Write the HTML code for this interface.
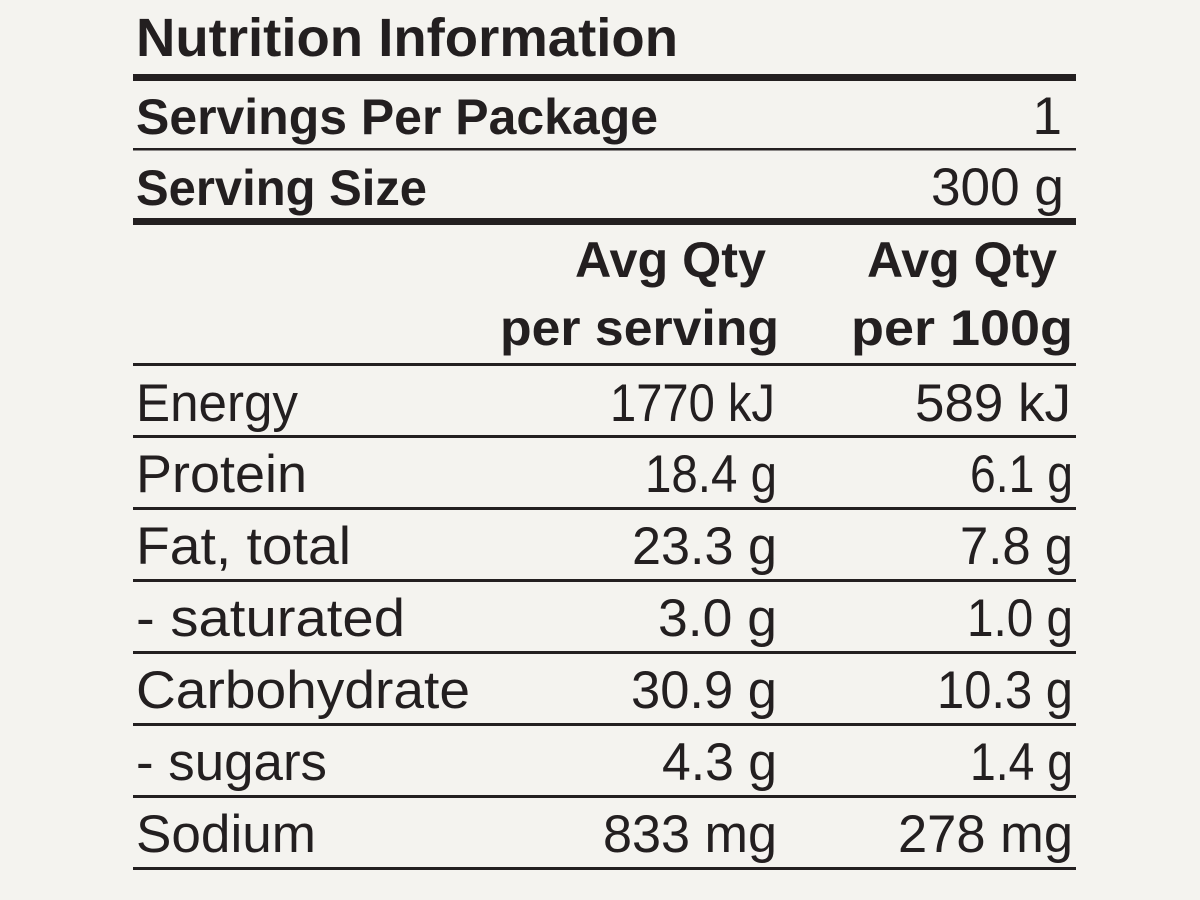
<!DOCTYPE html>
<html>
<head>
<meta charset="utf-8">
<style>
html,body{margin:0;padding:0;background:#f4f3ef;}
svg{display:block;}
text{font-family:"Liberation Sans",Arial,sans-serif;fill:#231f20;}
.b{font-weight:bold;}
.r{font-weight:normal;font-size:53px;}
</style>
</head>
<body>
<svg width="1200" height="900" viewBox="0 0 1200 900" xmlns="http://www.w3.org/2000/svg">
<rect x="0" y="0" width="1200" height="900" fill="#f4f3ef"/>
<!-- rules -->
<g fill="#231f20">
<rect x="133" y="74" width="943" height="7"/>
<rect x="133" y="148" width="943" height="2.5"/>
<rect x="133" y="218" width="943" height="7"/>
<rect x="133" y="363" width="943" height="3"/>
<rect x="133" y="435" width="943" height="3"/>
<rect x="133" y="507" width="943" height="3"/>
<rect x="133" y="579" width="943" height="3"/>
<rect x="133" y="651" width="943" height="3"/>
<rect x="133" y="723" width="943" height="3"/>
<rect x="133" y="795" width="943" height="3"/>
<rect x="133" y="867" width="943" height="3"/>
</g>

<!-- title -->
<text class="b" x="136" y="56" font-size="54" textLength="542" lengthAdjust="spacingAndGlyphs">Nutrition Information</text>

<text class="b" x="136" y="134" font-size="50" textLength="522" lengthAdjust="spacingAndGlyphs">Servings Per Package</text>
<text class="r" x="1062" y="134" text-anchor="end">1</text>

<text class="b" x="136" y="205" font-size="50" textLength="291" lengthAdjust="spacingAndGlyphs">Serving Size</text>
<text class="r" x="931" y="205" textLength="133" lengthAdjust="spacingAndGlyphs">300 g</text>

<!-- column headers -->
<text class="b" x="575" y="277" font-size="50" textLength="191" lengthAdjust="spacingAndGlyphs">Avg Qty</text>
<text class="b" x="867" y="277" font-size="50" textLength="190" lengthAdjust="spacingAndGlyphs">Avg Qty</text>
<text class="b" x="500" y="345" font-size="50" textLength="279" lengthAdjust="spacingAndGlyphs">per serving</text>
<text class="b" x="851" y="345" font-size="50" textLength="222" lengthAdjust="spacingAndGlyphs">per 100g</text>

<!-- rows -->
<text class="r" x="136" y="421" textLength="162" lengthAdjust="spacingAndGlyphs">Energy</text>
<text class="r" x="610" y="421" textLength="165" lengthAdjust="spacingAndGlyphs">1770 kJ</text>
<text class="r" x="915" y="421" textLength="156" lengthAdjust="spacingAndGlyphs">589 kJ</text>

<text class="r" x="136" y="492" textLength="171" lengthAdjust="spacingAndGlyphs">Protein</text>
<text class="r" x="645" y="492" textLength="132" lengthAdjust="spacingAndGlyphs">18.4 g</text>
<text class="r" x="970" y="492" textLength="103" lengthAdjust="spacingAndGlyphs">6.1 g</text>

<text class="r" x="136" y="564" textLength="215" lengthAdjust="spacingAndGlyphs">Fat, total</text>
<text class="r" x="632" y="564" textLength="145" lengthAdjust="spacingAndGlyphs">23.3 g</text>
<text class="r" x="960" y="564" textLength="113" lengthAdjust="spacingAndGlyphs">7.8 g</text>

<text class="r" x="136" y="636" textLength="269" lengthAdjust="spacingAndGlyphs">- saturated</text>
<text class="r" x="658" y="636" textLength="119" lengthAdjust="spacingAndGlyphs">3.0 g</text>
<text class="r" x="967" y="636" textLength="106" lengthAdjust="spacingAndGlyphs">1.0 g</text>

<text class="r" x="136" y="708" textLength="334" lengthAdjust="spacingAndGlyphs">Carbohydrate</text>
<text class="r" x="631" y="708" textLength="146" lengthAdjust="spacingAndGlyphs">30.9 g</text>
<text class="r" x="937" y="708" textLength="136" lengthAdjust="spacingAndGlyphs">10.3 g</text>

<text class="r" x="136" y="780" textLength="191" lengthAdjust="spacingAndGlyphs">- sugars</text>
<text class="r" x="662" y="780" textLength="115" lengthAdjust="spacingAndGlyphs">4.3 g</text>
<text class="r" x="970" y="780" textLength="103" lengthAdjust="spacingAndGlyphs">1.4 g</text>

<text class="r" x="136" y="852" textLength="180" lengthAdjust="spacingAndGlyphs">Sodium</text>
<text class="r" x="603" y="852" textLength="174" lengthAdjust="spacingAndGlyphs">833 mg</text>
<text class="r" x="898" y="852" textLength="175" lengthAdjust="spacingAndGlyphs">278 mg</text>
</svg>
</body>
</html>
